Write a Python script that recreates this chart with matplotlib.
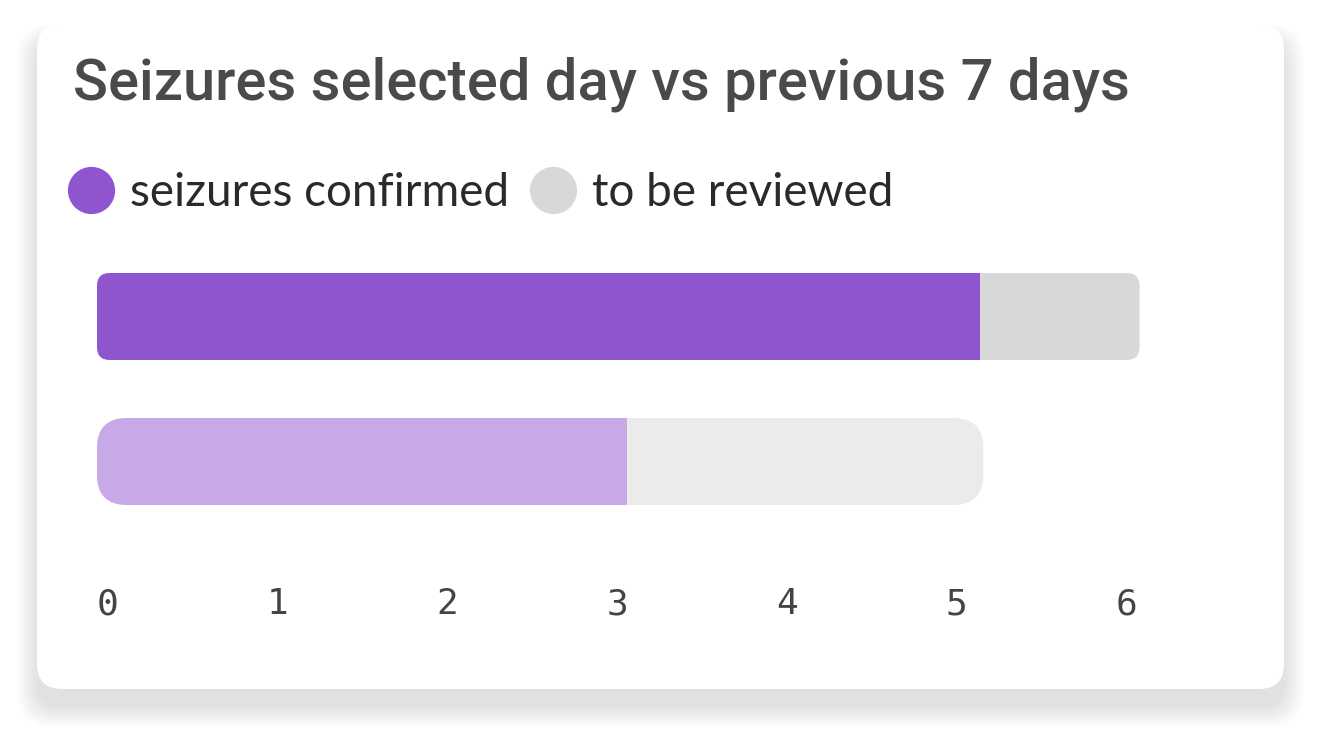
import matplotlib
matplotlib.use("Agg")
import matplotlib.pyplot as plt
from matplotlib.patches import FancyBboxPatch, Rectangle
from matplotlib.lines import Line2D

# data
rows = ["selected day", "previous 7 days"]
confirmed = [5.2, 3.12]
to_review = [0.94, 2.1]
ticks = [0, 1, 2, 3, 4, 5, 6]
title = "Seizures selected day vs previous 7 days"
legend_labels = ["seizures confirmed", "to be reviewed"]

dark_colors = ["#8e55cf", "#d8d8d8"]
light_colors = ["#c8a9e8", "#ebebeb"]
radius_px = [13, 30]

W, H = 1321, 739
fig = plt.figure(figsize=(W / 100, H / 100), dpi=100)
fig.patch.set_facecolor("white")

# background / card
bg = fig.add_axes([0, 0, 1, 1])
bg.set_xlim(0, W)
bg.set_ylim(H, 0)
bg.axis("off")

cx, cy, cw, ch, cr = 37, 24, 1247, 665, 25
# soft shadow, mostly below the card
for i in range(30):
    s = i * 1.4
    sh = FancyBboxPatch((cx + cr - s * 0.25, cy + cr + 18 - s * 0.2), cw - 2 * cr + s * 0.5, ch - 2 * cr + s * 0.45,
                        boxstyle="round,pad=%f" % (cr + s * 0.25), fc="black", ec="none", alpha=0.0032)
    bg.add_patch(sh)
card = FancyBboxPatch((cx + cr, cy + cr), cw - 2 * cr, ch - 2 * cr,
                      boxstyle="round,pad=%f" % cr, fc="white", ec="none")
bg.add_patch(card)

bg.text(73, 100, title, fontsize=41.7, color="#4a4a4a", fontfamily="Roboto",
        fontweight="medium", va="baseline", ha="left")

# bars axes, placed in pixels
px_x = 169.8
x0 = 97
ax_l, ax_r, ax_t, ax_b = 97, 1200, 240, 572
bar_c = [316.5, 461.5]
px_y = bar_c[1] - bar_c[0]
ax = fig.add_axes([ax_l / W, 1 - ax_b / H, (ax_r - ax_l) / W, (ax_b - ax_t) / H])
ax.set_xlim((ax_l - x0) / px_x, (ax_r - x0) / px_x)
ax.set_ylim((ax_b - bar_c[0]) / px_y, (ax_t - bar_c[0]) / px_y)
ax.patch.set_alpha(0)
for sp in ax.spines.values():
    sp.set_visible(False)
ax.set_yticks([])

bar_h = 87 / px_y
aspect = px_x / px_y
for i in range(len(rows)):
    total = confirmed[i] + to_review[i]
    cols = dark_colors if i == 0 else light_colors
    r = radius_px[i] / px_x
    full = FancyBboxPatch((r, i - bar_h / 2 + r * aspect), total - 2 * r, bar_h - 2 * r * aspect,
                          boxstyle="round,pad=%f" % r, mutation_aspect=aspect,
                          fc=cols[1], ec="none")
    ax.add_patch(full)
    seg = Rectangle((0, i - bar_h / 2), confirmed[i], bar_h, fc=cols[0], ec="none")
    ax.add_patch(seg)
    seg.set_clip_path(full)

ax.set_xticks(ticks)
ax.set_xticklabels([str(t) for t in ticks], fontfamily="DejaVu Sans Mono",
                   fontsize=26, color="#444444", ha="left")
ax.tick_params(axis="x", length=0, pad=11)

# legend
handles = [Line2D([], [], ls="none", marker="o", ms=34, mfc=c, mec="none") for c in dark_colors]
leg = fig.legend(handles, legend_labels, loc="upper left", bbox_to_anchor=(27 / W, 1 - 131 / H),
                 ncol=2, frameon=False, handlelength=1.0, handletextpad=0.35,
                 columnspacing=0.45, prop={"family": "Lato", "size": 33})
for t in leg.get_texts():
    t.set_color("#2a2a2a")

fig.savefig("out.png", dpi=100, facecolor="white")
